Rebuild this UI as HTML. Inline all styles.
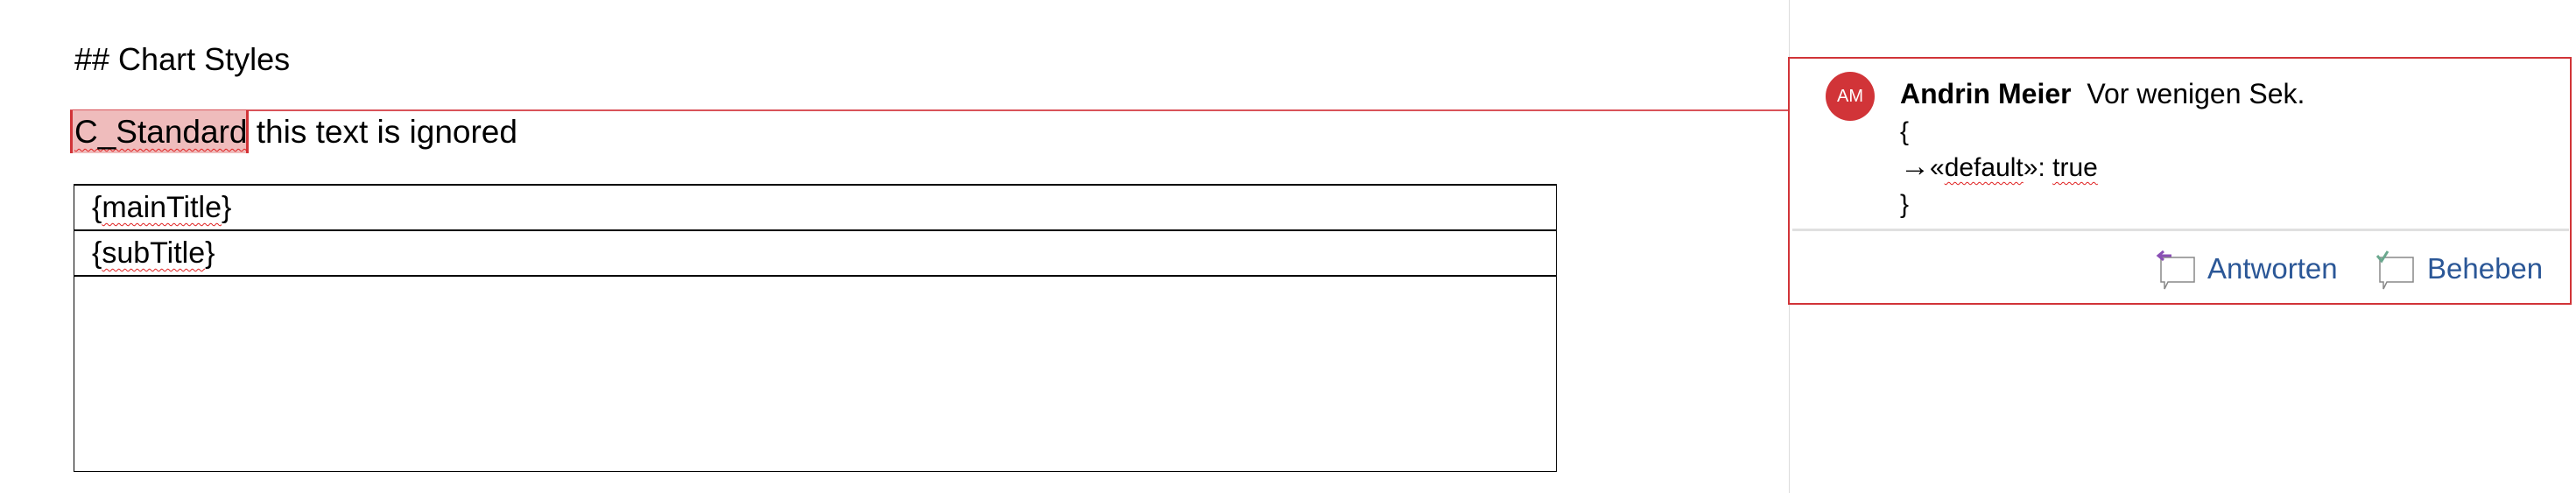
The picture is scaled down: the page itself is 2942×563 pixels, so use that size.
<!DOCTYPE html>
<html><head><meta charset="utf-8"><style>
body{margin:0;width:2942px;height:563px;background:#fff;position:relative;overflow:hidden;font-family:"Liberation Sans",sans-serif;color:#000}
.a{position:absolute;white-space:nowrap;line-height:1}
.sq{text-decoration:underline wavy #e02020;text-decoration-thickness:1px;text-underline-offset:6px}
</style></head><body>
<div class="a" style="left:85px;top:50px;font-size:36px">## Chart Styles</div>

<div class="a" style="left:80px;top:125px;width:1962px;height:2px;background:#d9535a"></div>
<div class="a" style="left:80px;top:126px;width:198px;height:49px;background:#efbcbc;border-left:3px solid #d13438;border-right:3px solid #d13438"></div>
<div class="a" style="left:85px;top:132px;font-size:37px"><span class="sq">C_Standard</span> this text is ignored</div>

<div class="a" style="left:84px;top:210px;width:1692px;height:326px;border:1px solid #000;border-top:2px solid #000"></div>
<div class="a" style="left:84px;top:262px;width:1694px;height:2px;background:#000"></div>
<div class="a" style="left:84px;top:314px;width:1694px;height:2px;background:#000"></div>
<div class="a" style="left:105px;top:220px;font-size:34px">{<span class="sq">mainTitle</span>}</div>
<div class="a" style="left:105px;top:272px;font-size:34px">{<span class="sq">subTitle</span>}</div>

<div class="a" style="left:2043px;top:0;width:1px;height:563px;background:#dcdcdc"></div>
<div class="a" style="left:2042px;top:65px;width:891px;height:279px;border:2px solid #d13438"></div>
<div class="a" style="left:2085px;top:82px;width:56px;height:56px;border-radius:50%;background:#d13438;color:#fff;font-size:20px;text-align:center;line-height:56px">AM</div>
<div class="a" style="left:2170px;top:91px;font-size:32px"><b>Andrin Meier</b>&nbsp; Vor wenigen Sek.</div>
<div class="a" style="left:2170px;top:136px;font-size:30px">{</div>
<div class="a" style="left:2170px;top:173px;font-size:30px"><span style="font-size:34px">→</span>«<span class="sq">default</span>»: <span class="sq">true</span></div>
<div class="a" style="left:2170px;top:219px;font-size:30px">}</div>
<div class="a" style="left:2047px;top:261px;width:887px;height:3px;background:#e0e0e0"></div>

<svg class="a" style="left:2462px;top:286px" width="50" height="46" viewBox="0 0 50 46">
<path d="M6 8 H44 V36 H14 L10 44 V36 H6 Z" fill="#fff" stroke="#888" stroke-width="1.5"/>
<path d="M18 6 H4 M9 1 L3 6 L9 11" fill="none" stroke="#8a4fb5" stroke-width="3"/>
</svg>
<div class="a" style="left:2521px;top:290px;font-size:33px;color:#2b5797">Antworten</div>
<svg class="a" style="left:2712px;top:286px" width="50" height="46" viewBox="0 0 50 46">
<path d="M6 8 H44 V36 H14 L10 44 V36 H6 Z" fill="#fff" stroke="#888" stroke-width="1.5"/>
<path d="M3 6 L8 12 L15 1" fill="none" stroke="#6aa88e" stroke-width="3"/>
</svg>
<div class="a" style="left:2772px;top:290px;font-size:33px;color:#2b5797">Beheben</div>
</body></html>
